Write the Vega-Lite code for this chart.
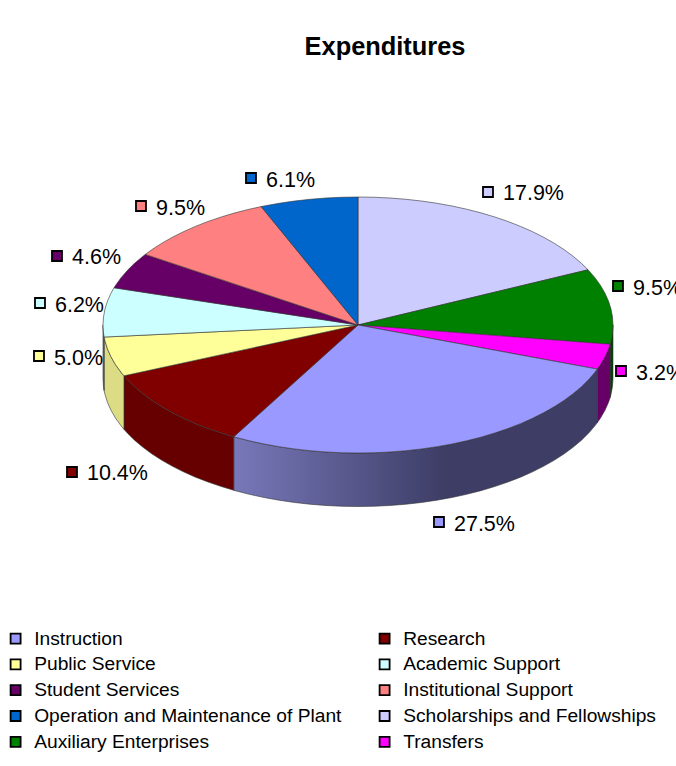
{
"$schema":"https://vega.github.io/schema/vega-lite/v6.json",
"width":676,"height":766,"padding":0,"autosize":{"type":"none"},
"background":"white",
"title":{"text":"Expenditures","font":"Liberation Sans","fontSize":25.4,"fontWeight":"bold","color":"black","anchor":"middle","dx":47,"dy":60,"offset":0},
"config":{"view":{"stroke":null},
"legend":{"symbolType":"square","symbolStrokeColor":"black","symbolStrokeWidth":1.8,"symbolSize":100}},
"datasets":{
"shares":[
{"c":"Scholarships and Fellowships","v":0.179,"x":0.5098,"y":1.0391},
{"c":"Auxiliary Enterprises","v":0.095,"x":1.0196,"y":0.3047},
{"c":"Transfers","v":0.032,"x":1.0314,"y":-0.3594},
{"c":"Instruction","v":0.275,"x":0.3176,"y":-1.5391},
{"c":"Research","v":0.104,"x":-1.1216,"y":-1.1484},
{"c":"Public Service","v":0.05,"x":-1.251,"y":-0.2422},
{"c":"Academic Support","v":0.062,"x":-1.2471,"y":0.1719},
{"c":"Student Services","v":0.046,"x":-1.1804,"y":0.5391},
{"c":"Institutional Support","v":0.095,"x":-0.851,"y":0.9297},
{"c":"Operation and Maintenance of Plant","v":0.061,"x":-0.4196,"y":1.1484}
],
"wall":[
{"c":"Auxiliary Enterprises","p":25,"x":1,"y":0,"y2":-0.418},
{"c":"Auxiliary Enterprises","p":26,"x":0.998,"y":-0.0628,"y2":-0.4808},
{"c":"Auxiliary Enterprises","p":27,"x":0.9921,"y":-0.1253,"y2":-0.5433},
{"c":"Auxiliary Enterprises","p":27.4,"x":0.9886,"y":-0.1503,"y2":-0.5683},
{"c":"Transfers","p":27.4,"x":0.9886,"y":-0.1503,"y2":-0.5683},
{"c":"Transfers","p":28,"x":0.9823,"y":-0.1874,"y2":-0.6054},
{"c":"Transfers","p":29,"x":0.9686,"y":-0.2487,"y2":-0.6667},
{"c":"Transfers","p":30,"x":0.9511,"y":-0.309,"y2":-0.727},
{"c":"Transfers","p":30.6,"x":0.9387,"y":-0.3446,"y2":-0.7626},
{"c":"Instruction","p":30.6,"x":0.9387,"y":-0.3446,"y2":-0.7626},
{"c":"Instruction","p":31,"x":0.9298,"y":-0.3681,"y2":-0.7861},
{"c":"Instruction","p":32,"x":0.9048,"y":-0.4258,"y2":-0.8438},
{"c":"Instruction","p":33,"x":0.8763,"y":-0.4818,"y2":-0.8998},
{"c":"Instruction","p":34,"x":0.8443,"y":-0.5358,"y2":-0.9538},
{"c":"Instruction","p":35,"x":0.809,"y":-0.5878,"y2":-1.0058},
{"c":"Instruction","p":36,"x":0.7705,"y":-0.6374,"y2":-1.0554},
{"c":"Instruction","p":37,"x":0.729,"y":-0.6845,"y2":-1.1025},
{"c":"Instruction","p":38,"x":0.6845,"y":-0.729,"y2":-1.147},
{"c":"Instruction","p":39,"x":0.6374,"y":-0.7705,"y2":-1.1885},
{"c":"Instruction","p":40,"x":0.5878,"y":-0.809,"y2":-1.227},
{"c":"Instruction","p":41,"x":0.5358,"y":-0.8443,"y2":-1.2623},
{"c":"Instruction","p":42,"x":0.4818,"y":-0.8763,"y2":-1.2943},
{"c":"Instruction","p":43,"x":0.4258,"y":-0.9048,"y2":-1.3228},
{"c":"Instruction","p":44,"x":0.3681,"y":-0.9298,"y2":-1.3478},
{"c":"Instruction","p":45,"x":0.309,"y":-0.9511,"y2":-1.3691},
{"c":"Instruction","p":46,"x":0.2487,"y":-0.9686,"y2":-1.3866},
{"c":"Instruction","p":47,"x":0.1874,"y":-0.9823,"y2":-1.4003},
{"c":"Instruction","p":48,"x":0.1253,"y":-0.9921,"y2":-1.4101},
{"c":"Instruction","p":49,"x":0.0628,"y":-0.998,"y2":-1.416},
{"c":"Instruction","p":50,"x":0,"y":-1,"y2":-1.418},
{"c":"Instruction","p":51,"x":-0.0628,"y":-0.998,"y2":-1.416},
{"c":"Instruction","p":52,"x":-0.1253,"y":-0.9921,"y2":-1.4101},
{"c":"Instruction","p":53,"x":-0.1874,"y":-0.9823,"y2":-1.4003},
{"c":"Instruction","p":54,"x":-0.2487,"y":-0.9686,"y2":-1.3866},
{"c":"Instruction","p":55,"x":-0.309,"y":-0.9511,"y2":-1.3691},
{"c":"Instruction","p":56,"x":-0.3681,"y":-0.9298,"y2":-1.3478},
{"c":"Instruction","p":57,"x":-0.4258,"y":-0.9048,"y2":-1.3228},
{"c":"Instruction","p":58,"x":-0.4818,"y":-0.8763,"y2":-1.2943},
{"c":"Instruction","p":58.1,"x":-0.4873,"y":-0.8733,"y2":-1.2913},
{"c":"Research","p":58.1,"x":-0.4873,"y":-0.8733,"y2":-1.2913},
{"c":"Research","p":59,"x":-0.5358,"y":-0.8443,"y2":-1.2623},
{"c":"Research","p":60,"x":-0.5878,"y":-0.809,"y2":-1.227},
{"c":"Research","p":61,"x":-0.6374,"y":-0.7705,"y2":-1.1885},
{"c":"Research","p":62,"x":-0.6845,"y":-0.729,"y2":-1.147},
{"c":"Research","p":63,"x":-0.729,"y":-0.6845,"y2":-1.1025},
{"c":"Research","p":64,"x":-0.7705,"y":-0.6374,"y2":-1.0554},
{"c":"Research","p":65,"x":-0.809,"y":-0.5878,"y2":-1.0058},
{"c":"Research","p":66,"x":-0.8443,"y":-0.5358,"y2":-0.9538},
{"c":"Research","p":67,"x":-0.8763,"y":-0.4818,"y2":-0.8998},
{"c":"Research","p":68,"x":-0.9048,"y":-0.4258,"y2":-0.8438},
{"c":"Research","p":68.5,"x":-0.9178,"y":-0.3971,"y2":-0.8151},
{"c":"Public Service","p":68.5,"x":-0.9178,"y":-0.3971,"y2":-0.8151},
{"c":"Public Service","p":69,"x":-0.9298,"y":-0.3681,"y2":-0.7861},
{"c":"Public Service","p":70,"x":-0.9511,"y":-0.309,"y2":-0.727},
{"c":"Public Service","p":71,"x":-0.9686,"y":-0.2487,"y2":-0.6667},
{"c":"Public Service","p":72,"x":-0.9823,"y":-0.1874,"y2":-0.6054},
{"c":"Public Service","p":73,"x":-0.9921,"y":-0.1253,"y2":-0.5433},
{"c":"Public Service","p":73.5,"x":-0.9956,"y":-0.0941,"y2":-0.5121},
{"c":"Academic Support","p":73.5,"x":-0.9956,"y":-0.0941,"y2":-0.5121},
{"c":"Academic Support","p":74,"x":-0.998,"y":-0.0628,"y2":-0.4808},
{"c":"Academic Support","p":75,"x":-1,"y":0,"y2":-0.418}
],
"top":[
{"c":"Scholarships and Fellowships","p":-1,"x":0,"y":0},
{"c":"Scholarships and Fellowships","p":0,"x":0,"y":1},
{"c":"Scholarships and Fellowships","p":1,"x":0.0628,"y":0.998},
{"c":"Scholarships and Fellowships","p":2,"x":0.1253,"y":0.9921},
{"c":"Scholarships and Fellowships","p":3,"x":0.1874,"y":0.9823},
{"c":"Scholarships and Fellowships","p":4,"x":0.2487,"y":0.9686},
{"c":"Scholarships and Fellowships","p":5,"x":0.309,"y":0.9511},
{"c":"Scholarships and Fellowships","p":6,"x":0.3681,"y":0.9298},
{"c":"Scholarships and Fellowships","p":7,"x":0.4258,"y":0.9048},
{"c":"Scholarships and Fellowships","p":8,"x":0.4818,"y":0.8763},
{"c":"Scholarships and Fellowships","p":9,"x":0.5358,"y":0.8443},
{"c":"Scholarships and Fellowships","p":10,"x":0.5878,"y":0.809},
{"c":"Scholarships and Fellowships","p":11,"x":0.6374,"y":0.7705},
{"c":"Scholarships and Fellowships","p":12,"x":0.6845,"y":0.729},
{"c":"Scholarships and Fellowships","p":13,"x":0.729,"y":0.6845},
{"c":"Scholarships and Fellowships","p":14,"x":0.7705,"y":0.6374},
{"c":"Scholarships and Fellowships","p":15,"x":0.809,"y":0.5878},
{"c":"Scholarships and Fellowships","p":16,"x":0.8443,"y":0.5358},
{"c":"Scholarships and Fellowships","p":17,"x":0.8763,"y":0.4818},
{"c":"Scholarships and Fellowships","p":17.9,"x":0.9022,"y":0.4314},
{"c":"Auxiliary Enterprises","p":-1,"x":0,"y":0},
{"c":"Auxiliary Enterprises","p":17.9,"x":0.9022,"y":0.4314},
{"c":"Auxiliary Enterprises","p":18,"x":0.9048,"y":0.4258},
{"c":"Auxiliary Enterprises","p":19,"x":0.9298,"y":0.3681},
{"c":"Auxiliary Enterprises","p":20,"x":0.9511,"y":0.309},
{"c":"Auxiliary Enterprises","p":21,"x":0.9686,"y":0.2487},
{"c":"Auxiliary Enterprises","p":22,"x":0.9823,"y":0.1874},
{"c":"Auxiliary Enterprises","p":23,"x":0.9921,"y":0.1253},
{"c":"Auxiliary Enterprises","p":24,"x":0.998,"y":0.0628},
{"c":"Auxiliary Enterprises","p":25,"x":1,"y":0},
{"c":"Auxiliary Enterprises","p":26,"x":0.998,"y":-0.0628},
{"c":"Auxiliary Enterprises","p":27,"x":0.9921,"y":-0.1253},
{"c":"Auxiliary Enterprises","p":27.4,"x":0.9886,"y":-0.1503},
{"c":"Transfers","p":-1,"x":0,"y":0},
{"c":"Transfers","p":27.4,"x":0.9886,"y":-0.1503},
{"c":"Transfers","p":28,"x":0.9823,"y":-0.1874},
{"c":"Transfers","p":29,"x":0.9686,"y":-0.2487},
{"c":"Transfers","p":30,"x":0.9511,"y":-0.309},
{"c":"Transfers","p":30.6,"x":0.9387,"y":-0.3446},
{"c":"Instruction","p":-1,"x":0,"y":0},
{"c":"Instruction","p":30.6,"x":0.9387,"y":-0.3446},
{"c":"Instruction","p":31,"x":0.9298,"y":-0.3681},
{"c":"Instruction","p":32,"x":0.9048,"y":-0.4258},
{"c":"Instruction","p":33,"x":0.8763,"y":-0.4818},
{"c":"Instruction","p":34,"x":0.8443,"y":-0.5358},
{"c":"Instruction","p":35,"x":0.809,"y":-0.5878},
{"c":"Instruction","p":36,"x":0.7705,"y":-0.6374},
{"c":"Instruction","p":37,"x":0.729,"y":-0.6845},
{"c":"Instruction","p":38,"x":0.6845,"y":-0.729},
{"c":"Instruction","p":39,"x":0.6374,"y":-0.7705},
{"c":"Instruction","p":40,"x":0.5878,"y":-0.809},
{"c":"Instruction","p":41,"x":0.5358,"y":-0.8443},
{"c":"Instruction","p":42,"x":0.4818,"y":-0.8763},
{"c":"Instruction","p":43,"x":0.4258,"y":-0.9048},
{"c":"Instruction","p":44,"x":0.3681,"y":-0.9298},
{"c":"Instruction","p":45,"x":0.309,"y":-0.9511},
{"c":"Instruction","p":46,"x":0.2487,"y":-0.9686},
{"c":"Instruction","p":47,"x":0.1874,"y":-0.9823},
{"c":"Instruction","p":48,"x":0.1253,"y":-0.9921},
{"c":"Instruction","p":49,"x":0.0628,"y":-0.998},
{"c":"Instruction","p":50,"x":0,"y":-1},
{"c":"Instruction","p":51,"x":-0.0628,"y":-0.998},
{"c":"Instruction","p":52,"x":-0.1253,"y":-0.9921},
{"c":"Instruction","p":53,"x":-0.1874,"y":-0.9823},
{"c":"Instruction","p":54,"x":-0.2487,"y":-0.9686},
{"c":"Instruction","p":55,"x":-0.309,"y":-0.9511},
{"c":"Instruction","p":56,"x":-0.3681,"y":-0.9298},
{"c":"Instruction","p":57,"x":-0.4258,"y":-0.9048},
{"c":"Instruction","p":58,"x":-0.4818,"y":-0.8763},
{"c":"Instruction","p":58.1,"x":-0.4873,"y":-0.8733},
{"c":"Research","p":-1,"x":0,"y":0},
{"c":"Research","p":58.1,"x":-0.4873,"y":-0.8733},
{"c":"Research","p":59,"x":-0.5358,"y":-0.8443},
{"c":"Research","p":60,"x":-0.5878,"y":-0.809},
{"c":"Research","p":61,"x":-0.6374,"y":-0.7705},
{"c":"Research","p":62,"x":-0.6845,"y":-0.729},
{"c":"Research","p":63,"x":-0.729,"y":-0.6845},
{"c":"Research","p":64,"x":-0.7705,"y":-0.6374},
{"c":"Research","p":65,"x":-0.809,"y":-0.5878},
{"c":"Research","p":66,"x":-0.8443,"y":-0.5358},
{"c":"Research","p":67,"x":-0.8763,"y":-0.4818},
{"c":"Research","p":68,"x":-0.9048,"y":-0.4258},
{"c":"Research","p":68.5,"x":-0.9178,"y":-0.3971},
{"c":"Public Service","p":-1,"x":0,"y":0},
{"c":"Public Service","p":68.5,"x":-0.9178,"y":-0.3971},
{"c":"Public Service","p":69,"x":-0.9298,"y":-0.3681},
{"c":"Public Service","p":70,"x":-0.9511,"y":-0.309},
{"c":"Public Service","p":71,"x":-0.9686,"y":-0.2487},
{"c":"Public Service","p":72,"x":-0.9823,"y":-0.1874},
{"c":"Public Service","p":73,"x":-0.9921,"y":-0.1253},
{"c":"Public Service","p":73.5,"x":-0.9956,"y":-0.0941},
{"c":"Academic Support","p":-1,"x":0,"y":0},
{"c":"Academic Support","p":73.5,"x":-0.9956,"y":-0.0941},
{"c":"Academic Support","p":74,"x":-0.998,"y":-0.0628},
{"c":"Academic Support","p":75,"x":-1,"y":0},
{"c":"Academic Support","p":76,"x":-0.998,"y":0.0628},
{"c":"Academic Support","p":77,"x":-0.9921,"y":0.1253},
{"c":"Academic Support","p":78,"x":-0.9823,"y":0.1874},
{"c":"Academic Support","p":79,"x":-0.9686,"y":0.2487},
{"c":"Academic Support","p":79.7,"x":-0.9567,"y":0.291},
{"c":"Student Services","p":-1,"x":0,"y":0},
{"c":"Student Services","p":79.7,"x":-0.9567,"y":0.291},
{"c":"Student Services","p":80,"x":-0.9511,"y":0.309},
{"c":"Student Services","p":81,"x":-0.9298,"y":0.3681},
{"c":"Student Services","p":82,"x":-0.9048,"y":0.4258},
{"c":"Student Services","p":83,"x":-0.8763,"y":0.4818},
{"c":"Student Services","p":84,"x":-0.8443,"y":0.5358},
{"c":"Student Services","p":84.3,"x":-0.8342,"y":0.5516},
{"c":"Institutional Support","p":-1,"x":0,"y":0},
{"c":"Institutional Support","p":84.3,"x":-0.8342,"y":0.5516},
{"c":"Institutional Support","p":85,"x":-0.809,"y":0.5878},
{"c":"Institutional Support","p":86,"x":-0.7705,"y":0.6374},
{"c":"Institutional Support","p":87,"x":-0.729,"y":0.6845},
{"c":"Institutional Support","p":88,"x":-0.6845,"y":0.729},
{"c":"Institutional Support","p":89,"x":-0.6374,"y":0.7705},
{"c":"Institutional Support","p":90,"x":-0.5878,"y":0.809},
{"c":"Institutional Support","p":91,"x":-0.5358,"y":0.8443},
{"c":"Institutional Support","p":92,"x":-0.4818,"y":0.8763},
{"c":"Institutional Support","p":93,"x":-0.4258,"y":0.9048},
{"c":"Institutional Support","p":93.8,"x":-0.3798,"y":0.9251},
{"c":"Operation and Maintenance of Plant","p":-1,"x":0,"y":0},
{"c":"Operation and Maintenance of Plant","p":93.8,"x":-0.3798,"y":0.9251},
{"c":"Operation and Maintenance of Plant","p":94,"x":-0.3681,"y":0.9298},
{"c":"Operation and Maintenance of Plant","p":95,"x":-0.309,"y":0.9511},
{"c":"Operation and Maintenance of Plant","p":96,"x":-0.2487,"y":0.9686},
{"c":"Operation and Maintenance of Plant","p":97,"x":-0.1874,"y":0.9823},
{"c":"Operation and Maintenance of Plant","p":98,"x":-0.1253,"y":0.9921},
{"c":"Operation and Maintenance of Plant","p":99,"x":-0.0628,"y":0.998},
{"c":"Operation and Maintenance of Plant","p":100,"x":0,"y":1}
]
},
"encoding":{
"x":{"field":"x","type":"quantitative","axis":null,"scale":{"domain":[-1.4039,1.2471],"nice":false,"zero":false}},
"y":{"field":"y","type":"quantitative","axis":null,"scale":{"domain":[-3.4453,2.5391],"nice":false,"zero":false}}
},
"layer":[
{"data":{"name":"wall"},"transform":[{"filter":"datum.c=='Auxiliary Enterprises'"}],
"mark":{"type":"area","fill":"#004000","stroke":"#333333","strokeWidth":0.6},
"encoding":{"y2":{"field":"y2"}}},
{"data":{"name":"wall"},"transform":[{"filter":"datum.c=='Transfers'"}],
"mark":{"type":"area","fill":"#660066","stroke":"#333333","strokeWidth":0.6},
"encoding":{"y2":{"field":"y2"}}},
{"data":{"name":"wall"},"transform":[{"filter":"datum.c=='Instruction'"}],
"mark":{"type":"area","stroke":"#333333","strokeWidth":0.6,"fill":{"gradient":"linear","x1":1,"x2":0,"y1":0,"y2":0,"stops":[{"offset":0,"color":"#3d3d66"},{"offset":0.42,"color":"#3d3d66"},{"offset":1,"color":"#7878ba"}]}},
"encoding":{"y2":{"field":"y2"}}},
{"data":{"name":"wall"},"transform":[{"filter":"datum.c=='Research'"}],
"mark":{"type":"area","fill":"#660000","stroke":"#333333","strokeWidth":0.6},
"encoding":{"y2":{"field":"y2"}}},
{"data":{"name":"wall"},"transform":[{"filter":"datum.c=='Public Service'"}],
"mark":{"type":"area","fill":"#dcdc85","stroke":"#333333","strokeWidth":0.6},
"encoding":{"y2":{"field":"y2"}}},
{"data":{"name":"wall"},"transform":[{"filter":"datum.c=='Academic Support'"}],
"mark":{"type":"area","fill":"#607a7a","stroke":"#333333","strokeWidth":0.6},
"encoding":{"y2":{"field":"y2"}}},
{"data":{"name":"top"},
"mark":{"type":"line","filled":true,"interpolate":"linear-closed","stroke":"#333333","strokeWidth":0.6},
"encoding":{"order":{"field":"p"},
"color":{"field":"c","type":"nominal","scale":{"domain":["Instruction","Research","Public Service","Academic Support","Student Services","Institutional Support","Operation and Maintenance of Plant","Scholarships and Fellowships","Auxiliary Enterprises","Transfers"],"range":["#9999FF","#800000","#FFFF99","#CCFFFF","#660066","#FF8080","#0066CC","#CCCCFF","#008000","#FF00FF"]},
"legend":{"title":null,"orient":"none","direction":"horizontal","legendX":6,"legendY":629,"columns":2,"columnPadding":33,"rowPadding":5.8,"labelFont":"Liberation Sans","labelFontSize":19.2,"labelColor":"black","labelLimit":400,"labelOffset":9,"symbolOpacity":1}}}},
{"data":{"name":"shares"},
"mark":{"type":"point","shape":"square","filled":true,"size":100,"stroke":"black","strokeWidth":1.8,"opacity":1},
"encoding":{"color":{"field":"c","type":"nominal","legend":{"title":null,"orient":"none","direction":"horizontal","legendX":6,"legendY":629,"columns":2,"columnPadding":33,"rowPadding":5.8,"labelFont":"Liberation Sans","labelFontSize":19.2,"labelColor":"black","labelLimit":400,"labelOffset":9,"symbolOpacity":1}}}},
{"data":{"name":"shares"},
"mark":{"type":"text","align":"left","baseline":"middle","dx":15,"dy":2.5,"font":"Liberation Sans","fontSize":21.5,"fill":"black"},
"encoding":{"text":{"field":"v","type":"quantitative","format":".1%"}}}
]
}
